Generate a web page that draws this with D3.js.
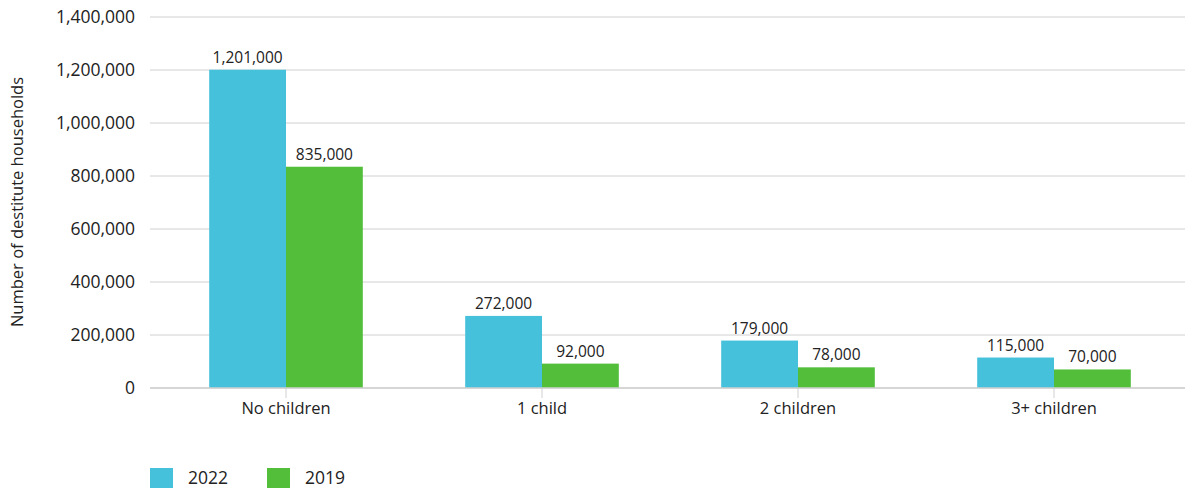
<!DOCTYPE html>
<html><head><meta charset="utf-8">
<script src="https://cdn.jsdelivr.net/npm/d3@7"></script>
<style>body{margin:0;background:#fff;font-family:"Open Sans",Lato,sans-serif;}</style>
</head><body><svg id="c" width="1185" height="488"></svg>
<script>
const categories = ["No children","1 child","2 children","3+ children"];
const series = ["2022","2019"];
const values2022 = [1201000,272000,179000,115000];
const values2019 = [835000,92000,78000,70000];
const yTicks = [0,200000,400000,600000,800000,1000000,1200000,1400000];
const colors = ["#45C1DB","#52BE3A"];

const svg = d3.select("#c");
const x = d3.scaleBand().domain(categories).range([158,1182]).paddingInner(0).paddingOuter(0);
const y = d3.scaleLinear().domain([0,1400000]).range([388,17]);
const fmt = d3.format(",");
const groupW = x.bandwidth()*0.6;
const xs = d3.scaleBand().domain(series).range([0,groupW]);

svg.append("g").selectAll("line").data(yTicks).join("line")
  .attr("x1",150).attr("x2",1185).attr("y1",d=>y(d)).attr("y2",d=>y(d))
  .attr("stroke","#d0d0d0").attr("stroke-width",1);

svg.append("g").selectAll("text").data(yTicks).join("text")
  .attr("x",135).attr("y",d=>y(d)).attr("dy","0.35em").attr("text-anchor","end")
  .attr("font-size",17.5).attr("fill","#222").text(d=>fmt(d));

svg.append("text").attr("transform","translate(23,202) rotate(-90)")
  .attr("text-anchor","middle").attr("font-size",16.5).attr("fill","#222")
  .text("Number of destitute households");

const data = [values2022, values2019];
categories.forEach((c,i)=>{
  const g = svg.append("g").attr("transform",`translate(${x(c)+(x.bandwidth()-groupW)/2},0)`);
  series.forEach((s,j)=>{
    const v = data[j][i];
    g.append("rect").attr("x",xs(s)).attr("y",y(v)).attr("width",xs.bandwidth())
      .attr("height",y(0)-y(v)).attr("fill",colors[j]);
    g.append("text").attr("x",xs(s)+xs.bandwidth()/2).attr("y",y(v)-7)
      .attr("text-anchor","middle").attr("font-size",15.5).attr("fill","#222").text(fmt(v));
  });
});

svg.append("line").attr("x1",150).attr("x2",1185).attr("y1",388).attr("y2",388)
  .attr("stroke","#d0d0d0").attr("stroke-width",1.5);
svg.append("g").selectAll("line").data(categories).join("line")
  .attr("x1",d=>x(d)+x.bandwidth()/2).attr("x2",d=>x(d)+x.bandwidth()/2)
  .attr("y1",388).attr("y2",398).attr("stroke","#d0d0d0");
svg.append("g").selectAll("text").data(categories).join("text")
  .attr("x",d=>x(d)+x.bandwidth()/2).attr("y",414).attr("text-anchor","middle")
  .attr("font-size",16.5).attr("fill","#222").text(d=>d);

const leg = svg.append("g");
series.forEach((s,j)=>{
  const lx = 150 + j*117;
  leg.append("rect").attr("x",lx).attr("y",468).attr("width",23).attr("height",20).attr("fill",colors[j]);
  leg.append("text").attr("x",lx+38).attr("y",484).attr("font-size",17.5).attr("fill","#222").text(s);
});
</script></body></html>
